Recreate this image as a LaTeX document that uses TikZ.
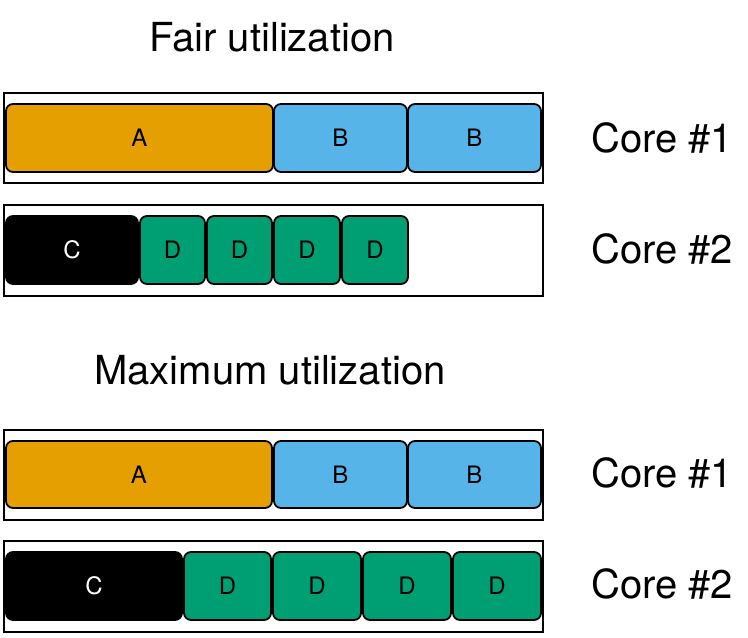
\documentclass[tikz,border=0pt]{standalone}
\usepackage{fontspec}
\setmainfont{TeX Gyre Heros}
\definecolor{taskA}{HTML}{E69F00}
\definecolor{taskB}{HTML}{56B4E9}
\definecolor{taskD}{HTML}{009E73}
\tikzset{
  corebox/.style={draw=black, line width=1.8pt, fill=white, inner sep=0pt, outer sep=0pt},
  taskbox/.style={draw=black, line width=1.8pt, rounded corners=7pt, inner sep=0pt, outer sep=0pt, font=\fontsize{24}{26}\selectfont},
  title/.style={font=\fontsize{40}{44}\selectfont, inner sep=0pt, anchor=base},
  corelabel/.style={font=\fontsize{40}{44}\selectfont, inner sep=0pt, anchor=base west},
}
\newcommand{\mkbox}[8]{% name, style opts, x1, x2, y1, y2, fill, label
  \node[#2, fill=#7, minimum width={(#4)-(#3)}, minimum height={(#6)-(#5)}] (#1) at ({((#3)+(#4))/2},{((#5)+(#6))/2}) {#8};
}
\begin{document}
\begin{tikzpicture}[x=1pt,y=-1pt]
\useasboundingbox (0,0) rectangle (748,638);
% titles
\node[title] (t1) at (272,51) {Fair utilization};
\node[title] (t2) at (270,384) {Maximum utilization};
% fair: core 1
\mkbox{f1}{corebox}{4}{543}{93}{183}{white}{}
\mkbox{f1a}{taskbox}{6}{273}{104}{172}{taskA}{A}
\mkbox{f1b1}{taskbox}{274}{407}{104}{172}{taskB}{B}
\mkbox{f1b2}{taskbox}{408}{541}{104}{172}{taskB}{B}
% fair: core 2
\mkbox{f2}{corebox}{4}{543}{205}{296}{white}{}
\mkbox{f2c}{taskbox,text=white}{6}{138}{216}{284}{black}{C}
\mkbox{f2d1}{taskbox}{140}{205}{216}{284}{taskD}{D}
\mkbox{f2d2}{taskbox}{207}{272}{216}{284}{taskD}{D}
\mkbox{f2d3}{taskbox}{274}{340}{216}{284}{taskD}{D}
\mkbox{f2d4}{taskbox}{342}{408}{216}{284}{taskD}{D}
% max: core 1
\mkbox{m1}{corebox}{4}{543}{430}{520}{white}{}
\mkbox{m1a}{taskbox}{6}{272}{441}{508}{taskA}{A}
\mkbox{m1b1}{taskbox}{274}{407}{441}{508}{taskB}{B}
\mkbox{m1b2}{taskbox}{408}{541}{441}{508}{taskB}{B}
% max: core 2
\mkbox{m2}{corebox}{4}{543}{541}{632}{white}{}
\mkbox{m2c}{taskbox,text=white}{6}{182}{552}{620}{black}{C}
\mkbox{m2d1}{taskbox}{184}{271}{552}{620}{taskD}{D}
\mkbox{m2d2}{taskbox}{273}{361}{552}{620}{taskD}{D}
\mkbox{m2d3}{taskbox}{363}{451}{552}{620}{taskD}{D}
\mkbox{m2d4}{taskbox}{453}{541}{552}{620}{taskD}{D}
% core labels
\node[corelabel] (c1) at (591,152) {Core \#1};
\node[corelabel] (c2) at (591,263) {Core \#2};
\node[corelabel] (c3) at (591,487) {Core \#1};
\node[corelabel] (c4) at (591,598) {Core \#2};
\end{tikzpicture}
\end{document}
